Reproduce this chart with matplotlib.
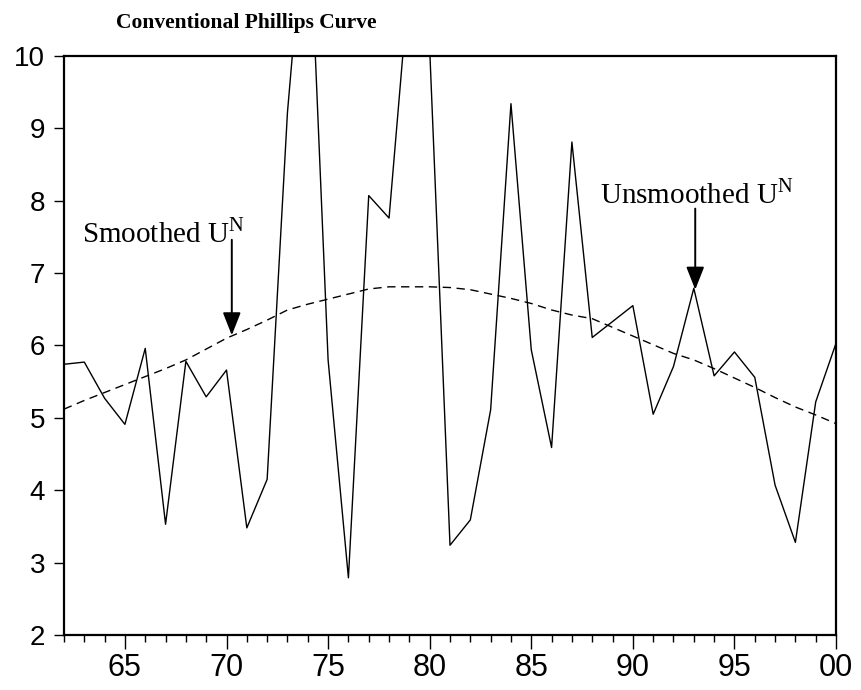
import numpy as np
import matplotlib
matplotlib.use("Agg")
import matplotlib.pyplot as plt
from matplotlib.ticker import MultipleLocator, FixedLocator
from matplotlib import font_manager

# anos 1962-2000 (eje en dos digitos)
anios = list(range(62, 101))

# U^N sin suavizar
u_sin_suavizar = [5.74, 5.77, 5.27, 4.91, 5.96, 3.53, 5.78, 5.29, 5.66, 3.48,
                  4.15, 9.22, 12.49, 5.80, 2.79, 8.07, 7.76, 11.08, 10.10, 3.24,
                  3.59, 5.11, 9.34, 5.94, 4.59, 8.81, 6.11, 6.33, 6.55, 5.05,
                  5.71, 6.79, 5.58, 5.91, 5.56, 4.07, 3.28, 5.22, 6.03]

# U^N suavizado
u_suavizado = [5.12, 5.24, 5.35, 5.46, 5.57, 5.68, 5.80, 5.95, 6.10, 6.22,
               6.35, 6.49, 6.57, 6.64, 6.71, 6.78, 6.81, 6.81, 6.81, 6.80,
               6.77, 6.71, 6.65, 6.58, 6.49, 6.42, 6.37, 6.25, 6.13, 6.01,
               5.89, 5.80, 5.68, 5.55, 5.42, 5.28, 5.15, 5.04, 4.92]

etiquetas_x = ["65", "70", "75", "80", "85", "90", "95", "00"]
ticks_x = [65, 70, 75, 80, 85, 90, 95, 100]

def fuente(nombre, respaldo):
    nombres = {f.name for f in font_manager.fontManager.ttflist}
    return nombre if nombre in nombres else respaldo

narrow = fuente("Liberation Sans Narrow", "Liberation Sans")

fig = plt.figure(figsize=(8.61, 6.90), dpi=100)
ax = fig.add_axes([0.0743, 0.0797, 0.8967, 0.8393])

ax.plot(anios, u_sin_suavizar, color="black", lw=1.0, zorder=3)
ax.plot(anios, u_suavizado, color="black", lw=1.0, dashes=(6, 4), zorder=3)

ax.set_xlim(62, 100)
ax.set_ylim(2, 10)

ax.xaxis.set_major_locator(FixedLocator(ticks_x))
ax.set_xticklabels(etiquetas_x, fontfamily=narrow, fontsize=22)
ax.xaxis.set_minor_locator(MultipleLocator(1))
ax.yaxis.set_major_locator(MultipleLocator(1))
for lab in ax.get_yticklabels():
    lab.set_fontfamily("Liberation Sans")
    lab.set_fontsize(20)

ax.tick_params(axis="x", which="major", length=10, width=1.0, pad=3)
ax.tick_params(axis="x", which="minor", length=5, width=1.0)
ax.tick_params(axis="y", which="major", length=7.5, width=1.0, pad=6)
for s in ax.spines.values():
    s.set_linewidth(1.6)

# titulo
fig.text(246 / 861, 1 - 23 / 690, "Conventional Phillips Curve", ha="center",
         va="center", fontfamily="Liberation Serif", fontweight="bold", fontsize=15.5)

# anotaciones con flechas
flecha = dict(arrowstyle="-|>,head_length=1.4,head_width=0.55", color="black",
              lw=1.4, shrinkA=0, shrinkB=0)
ax.annotate("", xy=(70.26, 6.14), xytext=(70.26, 7.46), arrowprops=flecha)
ax.text(62.87, 7.43, r"Smoothed U$^{\mathregular{N}}$", fontfamily="Liberation Serif",
        fontsize=21, ha="left", va="baseline")
ax.annotate("", xy=(93.07, 6.77), xytext=(93.07, 7.89), arrowprops=flecha)
ax.text(88.39, 7.96, r"Unsmoothed U$^{\mathregular{N}}$", fontfamily="Liberation Serif",
        fontsize=21, ha="left", va="baseline")

fig.savefig("out.png", dpi=100)
